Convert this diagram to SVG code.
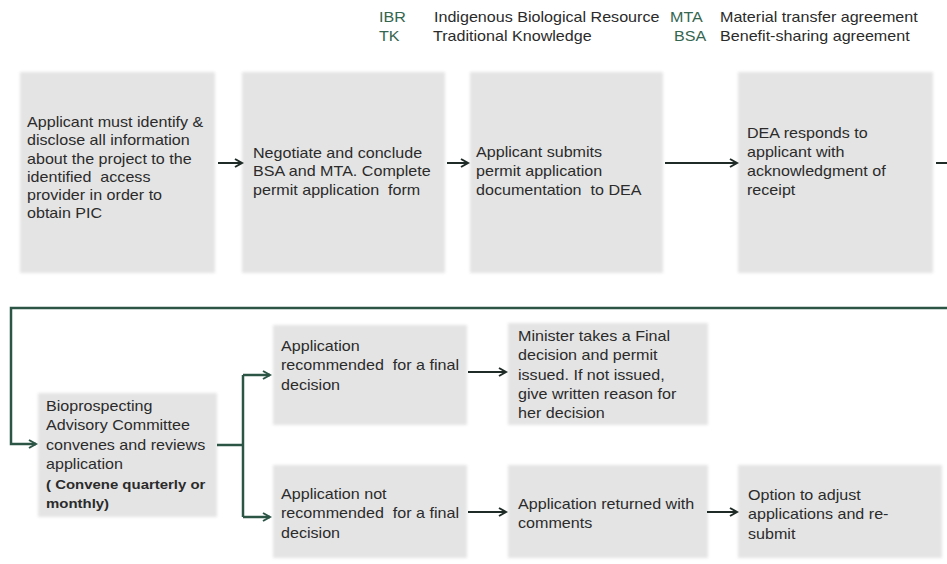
<svg xmlns="http://www.w3.org/2000/svg" width="947" height="564" viewBox="0 0 947 564">
<style>
  .box { fill: #e4e4e4; filter: url(#soft); }
  .t { font-family: "Liberation Sans", Arial, sans-serif; font-size: 14px; fill: #2b2b2b; }
  .b { font-weight: bold; font-size: 13px; }
  .ab { font-family: "Liberation Sans", Arial, sans-serif; font-size: 14px; fill: #356650; }
  .dk { fill: none; stroke: #1f2b27; stroke-width: 2; }
  .gr { fill: none; stroke: #2c5546; stroke-width: 2.5; }
</style>
<defs>
  <filter id="soft" x="-5%" y="-5%" width="110%" height="110%">
    <feGaussianBlur stdDeviation="1.5"/>
  </filter>
  <marker id="ah" markerUnits="userSpaceOnUse" markerWidth="12" markerHeight="12" refX="10" refY="6" orient="auto">
    <path d="M3,2 L10,6 L3,10" fill="none" stroke="#1f2b27" stroke-width="2"/>
  </marker>
  <marker id="ahg" markerUnits="userSpaceOnUse" markerWidth="12" markerHeight="12" refX="10" refY="6" orient="auto">
    <path d="M3,2 L10,6 L3,10" fill="none" stroke="#2c5546" stroke-width="2"/>
  </marker>
</defs>
<rect width="947" height="564" fill="#ffffff"/>

<g id="legend">
  <text class="ab" transform="translate(379,22) scale(1.15,1)">IBR</text>
  <text class="t" transform="translate(434,22) scale(1.15,1)">Indigenous Biological Resource</text>
  <text class="ab" transform="translate(379,41) scale(1.15,1)">TK</text>
  <text class="t" transform="translate(433,41) scale(1.15,1)">Traditional Knowledge</text>
  <text class="ab" transform="translate(670,22) scale(1.15,1)">MTA</text>
  <text class="t" transform="translate(720,22) scale(1.15,1)">Material transfer agreement</text>
  <text class="ab" transform="translate(674,41) scale(1.15,1)">BSA</text>
  <text class="t" transform="translate(720,41) scale(1.15,1)">Benefit-sharing agreement</text>
</g>

<g id="n1">
  <rect class="box" x="20" y="72" width="195" height="201"/>
  <text class="t" xml:space="preserve" transform="translate(27,127) scale(1.15,1)"><tspan x="0" y="0">Applicant must identify &amp;</tspan><tspan x="0" y="18.3">disclose all information</tspan><tspan x="0" y="36.6">about the project to the</tspan><tspan x="0" y="54.9">identified  access</tspan><tspan x="0" y="73.2">provider in order to</tspan><tspan x="0" y="91.5">obtain PIC</tspan></text>
</g>

<g id="n2">
  <rect class="box" x="242" y="72" width="203" height="201"/>
  <text class="t" xml:space="preserve" transform="translate(253,158) scale(1.15,1)"><tspan x="0" y="0">Negotiate and conclude</tspan><tspan x="0" y="18.4">BSA and MTA. Complete</tspan><tspan x="0" y="36.8">permit application  form</tspan></text>
</g>

<g id="n3">
  <rect class="box" x="470" y="72" width="193" height="201"/>
  <text class="t" xml:space="preserve" transform="translate(476,157) scale(1.15,1)"><tspan x="0" y="0">Applicant submits</tspan><tspan x="0" y="19">permit application</tspan><tspan x="0" y="38">documentation  to DEA</tspan></text>
</g>

<g id="n4">
  <rect class="box" x="738" y="72" width="195" height="201"/>
  <text class="t" xml:space="preserve" transform="translate(747,138) scale(1.15,1)"><tspan x="0" y="0">DEA responds to</tspan><tspan x="0" y="19">applicant with</tspan><tspan x="0" y="38">acknowledgment of</tspan><tspan x="0" y="57">receipt</tspan></text>
</g>

<g id="n5">
  <rect class="box" x="38" y="393" width="179" height="124"/>
  <text class="t" xml:space="preserve" transform="translate(46,411) scale(1.15,1)"><tspan x="0" y="0">Bioprospecting</tspan><tspan x="0" y="19.4">Advisory Committee</tspan><tspan x="0" y="38.8">convenes and reviews</tspan><tspan x="0" y="58.2">application</tspan><tspan x="0" y="77.6" class="b">( Convene quarterly or</tspan><tspan x="0" y="97" class="b">monthly)</tspan></text>
</g>

<g id="n6">
  <rect class="box" x="273" y="325" width="194" height="100"/>
  <text class="t" xml:space="preserve" transform="translate(281,351) scale(1.15,1)"><tspan x="0" y="0">Application</tspan><tspan x="0" y="19.5">recommended  for a final</tspan><tspan x="0" y="39">decision</tspan></text>
</g>

<g id="n7">
  <rect class="box" x="273" y="465" width="194" height="93"/>
  <text class="t" xml:space="preserve" transform="translate(281,499) scale(1.15,1)"><tspan x="0" y="0">Application not</tspan><tspan x="0" y="19.5">recommended  for a final</tspan><tspan x="0" y="39">decision</tspan></text>
</g>

<g id="n8">
  <rect class="box" x="508" y="323" width="200" height="102"/>
  <text class="t" xml:space="preserve" transform="translate(518,341) scale(1.15,1)"><tspan x="0" y="0">Minister takes a Final</tspan><tspan x="0" y="19.3">decision and permit</tspan><tspan x="0" y="38.6">issued. If not issued,</tspan><tspan x="0" y="57.9">give written reason for</tspan><tspan x="0" y="77.2">her decision</tspan></text>
</g>

<g id="n9">
  <rect class="box" x="508" y="465" width="200" height="93"/>
  <text class="t" xml:space="preserve" transform="translate(518,509) scale(1.15,1)"><tspan x="0" y="0">Application returned with</tspan><tspan x="0" y="19.5">comments</tspan></text>
</g>

<g id="n10">
  <rect class="box" x="738" y="465" width="204" height="93"/>
  <text class="t" xml:space="preserve" transform="translate(748,500) scale(1.15,1)"><tspan x="0" y="0">Option to adjust</tspan><tspan x="0" y="19.5">applications and re-</tspan><tspan x="0" y="39">submit</tspan></text>
</g>

<g id="connectors">
  <path class="dk" d="M218,163 H242" marker-end="url(#ah)"/>
  <path class="dk" d="M447,163 H468" marker-end="url(#ah)"/>
  <path class="dk" d="M665,163 H737" marker-end="url(#ah)"/>
  <path class="dk" d="M936,163 H947"/>
  <path class="gr" d="M947,308 H11 V444 H36" marker-end="url(#ahg)"/>
  <path class="gr" d="M217,445 H243"/>
  <path class="gr" d="M243,375 V517"/>
  <path class="gr" d="M243,375 H270" marker-end="url(#ahg)"/>
  <path class="gr" d="M243,517 H270" marker-end="url(#ahg)"/>
  <path class="dk" d="M468,372 H506" marker-end="url(#ah)"/>
  <path class="dk" d="M468,512 H506" marker-end="url(#ah)"/>
  <path class="dk" d="M707,512 H737" marker-end="url(#ah)"/>
</g>
</svg>
